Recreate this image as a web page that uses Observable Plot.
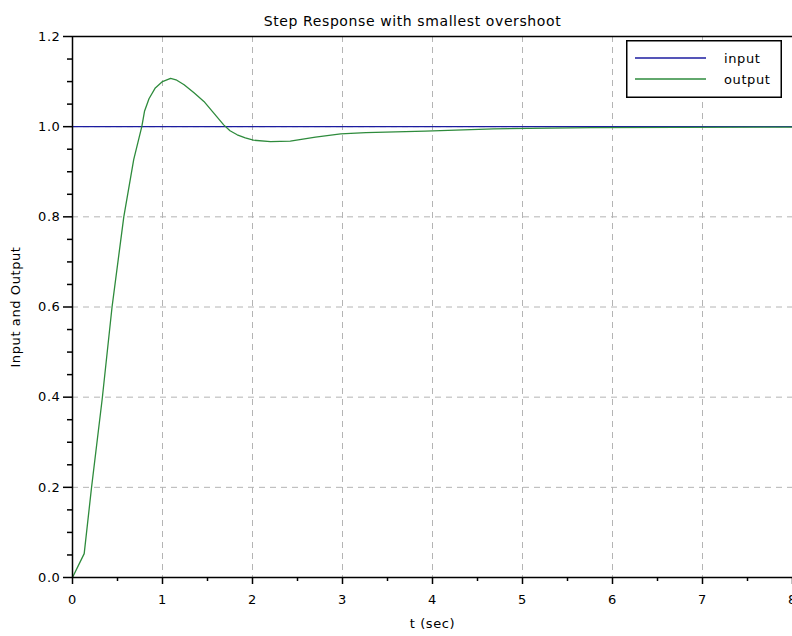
<!DOCTYPE html>
<html>
<head>
<meta charset="utf-8">
<script src="https://cdn.jsdelivr.net/npm/d3@7"></script>
<script src="https://cdn.jsdelivr.net/npm/@observablehq/plot@0.6"></script>
<style>
  body { margin: 0; background: white; }
  #wrap { position: relative; width: 792px; height: 636px; font-family: "DejaVu Sans", sans-serif; }
  #legend { position: absolute; left: 626px; top: 40px; }
  #wrap svg text { letter-spacing: 0.6px; }
</style>
</head>
<body>
<div id="wrap"></div>
<script>
// ---- data ----
const title = "Step Response with smallest overshoot";
const xLabel = "t (sec)";
const yLabel = "Input and Output";
const seriesNames = ["input", "output"];
const seriesColors = ["#1c1ca0", "#2e8b3c"];

const inputT = [0, 8];
const inputV = [1, 1];

const outputT = [0, 0.13, 0.21, 0.33, 0.44, 0.57, 0.68, 0.77, 0.80, 0.85, 0.92, 1.0, 1.09, 1.15, 1.24, 1.35, 1.46, 1.57, 1.68, 1.75, 1.83, 1.92, 2.01, 2.2, 2.42, 2.7, 2.98, 3.26, 3.92, 4.68, 5.76, 8.0];
const outputV = [0, 0.053, 0.197, 0.396, 0.601, 0.80, 0.927, 1.0, 1.034, 1.062, 1.086, 1.100, 1.107, 1.104, 1.093, 1.075, 1.056, 1.030, 1.004, 0.991, 0.982, 0.975, 0.970, 0.967, 0.968, 0.977, 0.984, 0.987, 0.990, 0.995, 0.998, 0.999];

const xMajor = [0, 1, 2, 3, 4, 5, 6, 7, 8];
const xMinor = [0.5, 1.5, 2.5, 3.5, 4.5, 5.5, 6.5, 7.5];
const yMajor = [0, 0.2, 0.4, 0.6, 0.8, 1.0, 1.2];
const yMinor = [0.05, 0.1, 0.15, 0.25, 0.3, 0.35, 0.45, 0.5, 0.55, 0.65, 0.7, 0.75, 0.85, 0.9, 0.95, 1.05, 1.1, 1.15];

const inputData = inputT.map((t, i) => ({t, v: inputV[i]}));
const outputData = outputT.map((t, i) => ({t, v: outputV[i]}));

const chart = Plot.plot({
  width: 792,
  height: 636,
  marginLeft: 72,
  marginRight: 0,
  marginTop: 36,
  marginBottom: 59,
  x: {domain: [0, 8]},
  y: {domain: [0, 1.2]},
  style: {fontFamily: "DejaVu Sans, sans-serif", fontSize: "13px", background: "white", color: "black"},
  marks: [
    Plot.gridX(xMajor.filter(d => d > 0 && d < 8), {stroke: "#b4b4b4", strokeOpacity: 1, strokeDasharray: "6,5"}),
    Plot.gridY(yMajor.filter(d => d > 0 && d < 1.2), {stroke: "#b4b4b4", strokeOpacity: 1, strokeDasharray: "6,5"}),
    Plot.line(inputData, {x: "t", y: "v", stroke: seriesColors[0], strokeWidth: 1.3}),
    Plot.line(outputData, {x: "t", y: "v", stroke: seriesColors[1], strokeWidth: 1.3}),
    Plot.ruleX([0], {stroke: "black", strokeWidth: 1.5}),
    Plot.ruleY([0, 1.2], {stroke: "black", strokeWidth: 1.5}),
    Plot.axisX(xMajor, {tickSize: 7, tickPadding: 10, tickFormat: "d", fontSize: 13, label: xLabel, labelAnchor: "center", labelArrow: "none", labelOffset: 50, strokeWidth: 1.5}),
    Plot.axisX(xMinor, {tickSize: 4, tickFormat: () => "", label: null, strokeWidth: 1.5}),
    Plot.axisY(yMajor, {tickSize: 9, tickPadding: 3, tickFormat: ".1f", fontSize: 13, label: yLabel, labelAnchor: "center", labelArrow: "none", labelOffset: 62, strokeWidth: 1.5}),
    Plot.axisY(yMinor, {tickSize: 5, tickFormat: () => "", label: null, strokeWidth: 1.5}),
    Plot.text([title], {frameAnchor: "top", dy: -20, dx: -20, fontSize: 14})
  ]
});
document.getElementById("wrap").appendChild(chart);

// legend
const lg = d3.select("#wrap").append("svg").attr("id", "legend")
  .attr("width", 156).attr("height", 58)
  .style("font-family", "DejaVu Sans, sans-serif").style("font-size", "13px");
lg.append("rect").attr("x", 0.75).attr("y", 0.75).attr("width", 154.5).attr("height", 56.5)
  .attr("fill", "white").attr("stroke", "black").attr("stroke-width", 1.5);
seriesNames.forEach((name, i) => {
  const y = 18 + i * 21;
  lg.append("line").attr("x1", 9).attr("x2", 80).attr("y1", y).attr("y2", y)
    .attr("stroke", seriesColors[i]).attr("stroke-width", 1.3);
  lg.append("text").attr("x", 98).attr("y", y).attr("dy", "0.35em").text(name);
});
</script>
</body>
</html>
